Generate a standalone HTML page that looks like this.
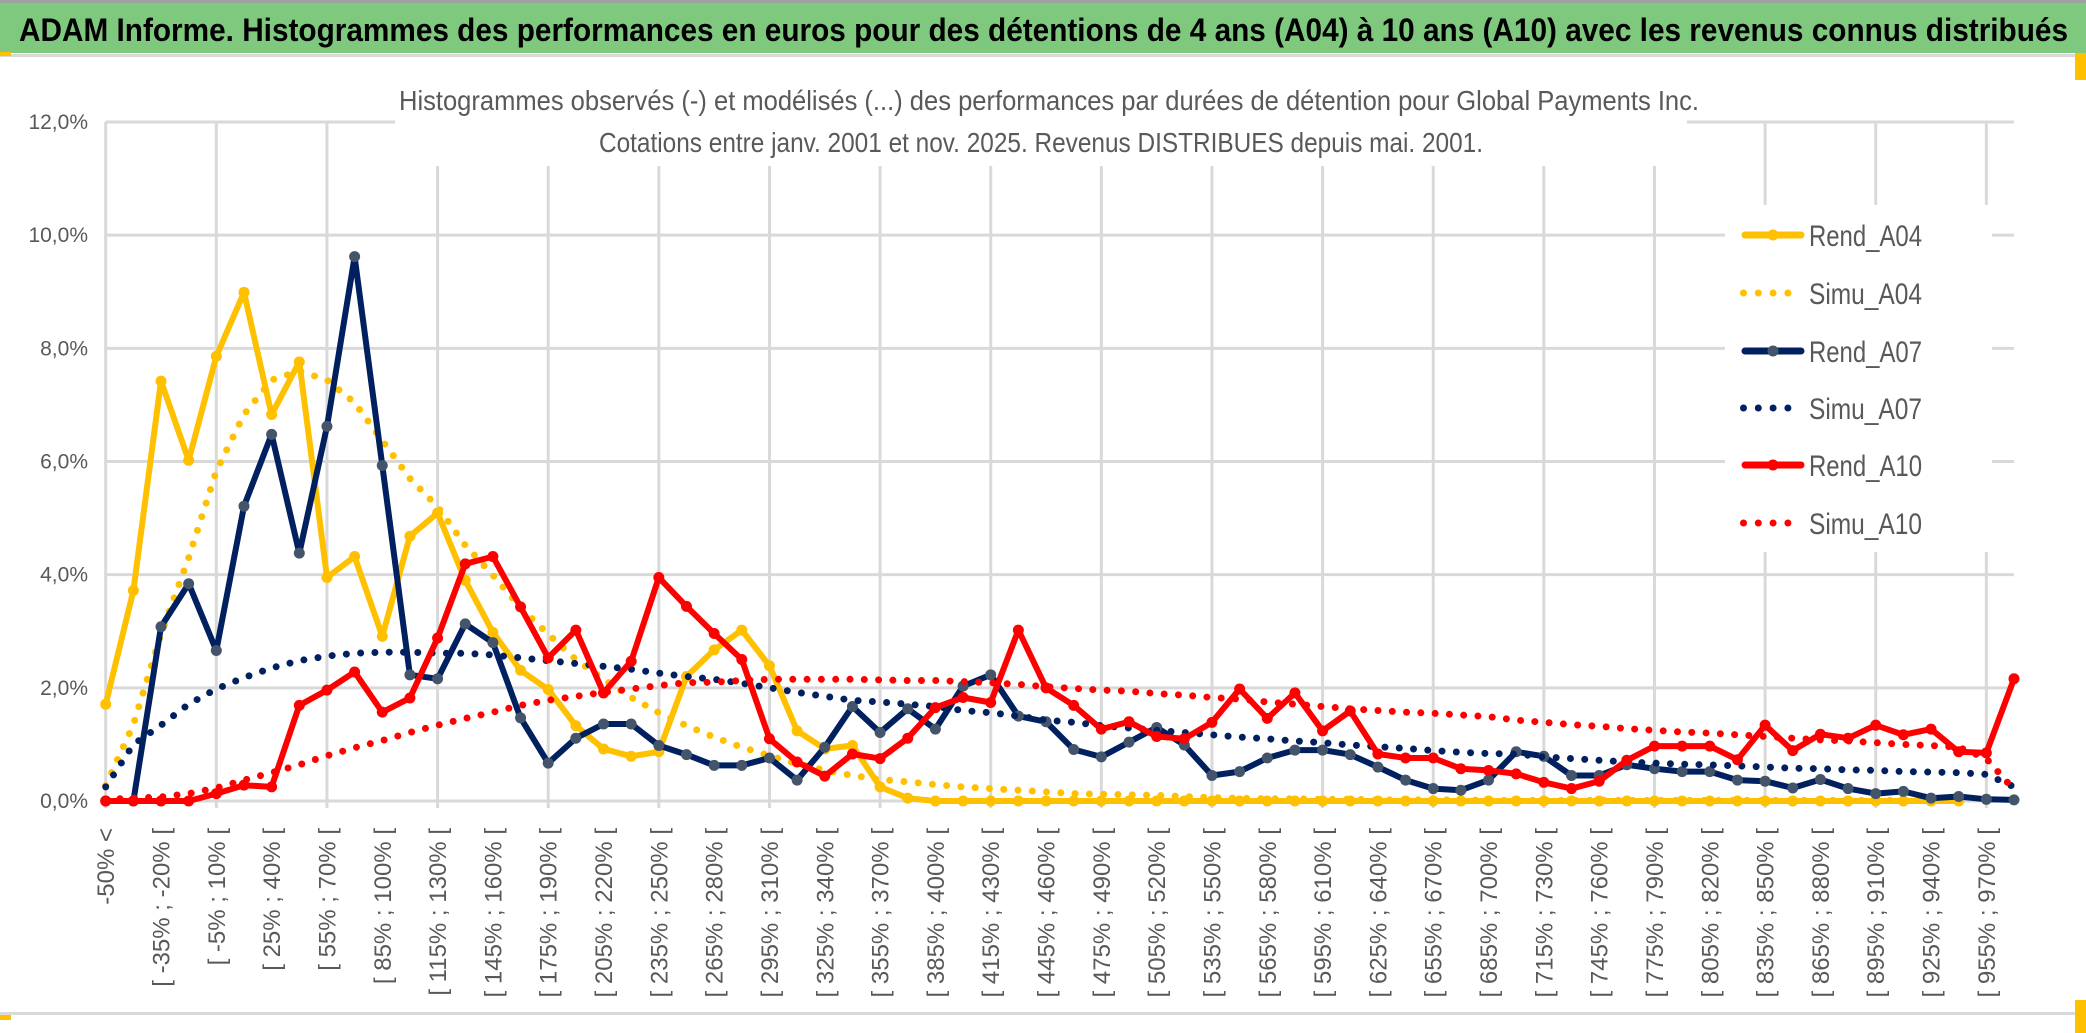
<!DOCTYPE html>
<html><head><meta charset="utf-8">
<style>
html,body{margin:0;padding:0;background:#fff;}
svg{display:block;}
text{font-family:"Liberation Sans Narrow","Liberation Sans",sans-serif;}
.xl{font-family:"Liberation Sans",sans-serif;font-size:24px;fill:#595959;}
</style></head>
<body>
<svg id="chart" width="2086" height="1033" viewBox="0 0 2086 1033" xmlns="http://www.w3.org/2000/svg">
  <rect x="0" y="0" width="2086" height="1033" fill="#fff"/>
  <rect x="0" y="0" width="2086" height="3" fill="#a0a0a0"/>
  <rect x="0" y="3" width="2086" height="50" fill="#7fc97f"/>
  <rect x="0" y="54" width="2086" height="3" fill="#d9d9d9"/>
  <rect x="0" y="52" width="11" height="4" fill="#ffc000"/>
  <rect x="2075" y="53" width="11" height="27" fill="#ffc000"/>
  <rect x="0" y="1012" width="2086" height="3" fill="#d9d9d9"/>
  <rect x="0" y="1015" width="11" height="5" fill="#ffc000"/>
  <rect x="2075" y="1000" width="11" height="33" fill="#ffc000"/>
  <text x="19" y="41" font-size="32" font-weight="bold" fill="#000" textLength="2049" lengthAdjust="spacingAndGlyphs">ADAM Informe. Histogrammes des performances en euros pour des détentions de 4 ans (A04) à 10 ans (A10) avec les revenus connus distribués</text>
  <g id="grid"></g>
  <rect x="395" y="60" width="1292" height="106" fill="#fff"/>
  <rect x="1725" y="205" width="267" height="347" fill="#fff"/>
  <text x="399" y="110" font-size="28" fill="#595959" textLength="1300" lengthAdjust="spacingAndGlyphs">Histogrammes observés (-) et modélisés (...) des performances par durées de détention pour Global Payments Inc.</text>
  <text x="599" y="152" font-size="28" fill="#595959" textLength="884" lengthAdjust="spacingAndGlyphs">Cotations entre janv. 2001 et nov. 2025. Revenus DISTRIBUES depuis mai. 2001.</text>
  <g id="yaxis"></g>
  <g id="xaxis"></g>
  <g id="series"></g>
  <g id="legend"></g>
</svg>
<script>
const nCats = 70;
const yTicks = [0, 2, 4, 6, 8, 10, 12];
const yTickLabels = ["0,0%", "2,0%", "4,0%", "6,0%", "8,0%", "10,0%", "12,0%"];
const xTickLabels = ["-50% <","[ -35% ; -20% [","[ -5% ; 10% [","[ 25% ; 40% [","[ 55% ; 70% [","[ 85% ; 100% [","[ 115% ; 130% [","[ 145% ; 160% [","[ 175% ; 190% [","[ 205% ; 220% [","[ 235% ; 250% [","[ 265% ; 280% [","[ 295% ; 310% [","[ 325% ; 340% [","[ 355% ; 370% [","[ 385% ; 400% [","[ 415% ; 430% [","[ 445% ; 460% [","[ 475% ; 490% [","[ 505% ; 520% [","[ 535% ; 550% [","[ 565% ; 580% [","[ 595% ; 610% [","[ 625% ; 640% [","[ 655% ; 670% [","[ 685% ; 700% [","[ 715% ; 730% [","[ 745% ; 760% [","[ 775% ; 790% [","[ 805% ; 820% [","[ 835% ; 850% [","[ 865% ; 880% [","[ 895% ; 910% [","[ 925% ; 940% [","[ 955% ; 970% ["];

const rendA04 = [1.71,3.72,7.42,6.02,7.86,8.99,6.83,7.76,3.95,4.32,2.91,4.68,5.09,3.9,2.98,2.31,1.97,
 1.33,0.92,0.79,0.87,2.2,2.67,3.02,2.39,1.24,0.92,0.98,0.25,0.05,0,0,0,0,
 0,0,0,0,0,0,0,0,0,0,0,0,0,0,0,0,0,
 0,0,0,0,0,0,0,0,0,0,0,0,0,0,0,0,0,null,null];
const simuA04 = [0.27,1.35,2.95,4.3,5.83,6.83,7.44,7.6,7.44,7.04,6.37,5.7,5.2,4.52,3.99,3.42,2.95,
 2.5,2.15,1.83,1.56,1.33,1.13,0.95,0.8,0.66,0.54,0.45,0.38,0.34,0.29,0.25,0.22,0.19,
 0.16,0.13,0.12,0.11,0.1,0.08,0.06,0.05,0.04,0.04,0.03,0.03,0.02,0.02,0.02,0.02,0.01,
 0.01,0.01,0.01,0.01,0.01,0.01,0.01,0.01,0.01,0.01,0.01,0.01,0.01,0.01,0.01,0.01,null,null,null];
const rendA07 = [0,0,3.08,3.84,2.66,5.21,6.48,4.38,6.62,9.62,5.93,2.23,2.16,3.13,2.8,1.47,0.67,
 1.11,1.36,1.36,0.98,0.82,0.63,0.63,0.76,0.37,0.95,1.67,1.21,1.63,1.27,2.03,2.23,1.5,
 1.4,0.91,0.78,1.04,1.3,0.99,0.45,0.52,0.76,0.9,0.9,0.82,0.6,0.37,0.22,0.19,0.37,
 0.87,0.79,0.45,0.45,0.64,0.57,0.52,0.52,0.37,0.35,0.23,0.38,0.22,0.13,0.17,0.05,0.08,0.03,0.02];
const simuA07 = [0.25,1.0,1.34,1.71,1.98,2.18,2.35,2.48,2.56,2.61,2.63,2.63,2.61,2.61,2.58,2.53,2.48,
 2.43,2.38,2.33,2.26,2.2,2.15,2.08,2.0,1.92,1.85,1.78,1.75,1.71,1.67,1.6,1.56,1.5,
 1.43,1.39,1.33,1.29,1.25,1.21,1.17,1.13,1.1,1.06,1.03,0.99,0.96,0.93,0.89,0.86,0.84,
 0.83,0.78,0.75,0.72,0.69,0.67,0.65,0.64,0.62,0.6,0.58,0.57,0.55,0.54,0.52,0.51,0.5,0.47,0.25];
const rendA10 = [0,0,0,0,0.13,0.28,0.25,1.69,1.96,2.28,1.57,1.82,2.88,4.19,4.32,3.43,2.53,
 3.02,1.91,2.47,3.95,3.44,2.96,2.5,1.1,0.69,0.44,0.83,0.75,1.11,1.65,1.83,1.74,3.02,
 2.0,1.69,1.27,1.4,1.14,1.1,1.39,1.98,1.46,1.91,1.24,1.59,0.83,0.76,0.76,0.57,0.54,
 0.48,0.33,0.22,0.35,0.72,0.97,0.97,0.97,0.73,1.34,0.89,1.18,1.11,1.34,1.17,1.27,0.87,0.85,2.16];
const simuA10 = [0.03,0.05,0.07,0.13,0.23,0.37,0.5,0.64,0.8,0.94,1.07,1.21,1.34,1.46,1.57,1.69,1.78,
 1.85,1.92,1.98,2.04,2.09,2.1,2.13,2.15,2.15,2.15,2.15,2.14,2.13,2.13,2.11,2.09,2.06,
 2.02,1.99,1.96,1.94,1.9,1.87,1.83,1.8,1.75,1.71,1.67,1.63,1.6,1.57,1.55,1.52,1.49,
 1.43,1.39,1.35,1.32,1.28,1.25,1.22,1.2,1.17,1.14,1.11,1.08,1.06,1.03,1.0,0.98,0.95,0.75,0.2];

const NS = "http://www.w3.org/2000/svg";
const X0 = 105.7, X1 = 2014, Y0 = 801, Y12 = 122;
function xPos(k){ return X0 + k * (X1 - X0) / (nCats - 1); }
function yPos(v){ return Y0 - v * (Y0 - Y12) / 12; }
function mk(tag, attrs, parent){
  const e = document.createElementNS(NS, tag);
  for (const a in attrs) e.setAttribute(a, attrs[a]);
  parent.appendChild(e);
  return e;
}

// gridlines
const grid = document.getElementById('grid');
yTicks.forEach(function(t){
  const l = mk('line', {x1:X0, x2:X1, y1:yPos(t), y2:yPos(t), stroke:'#d9d9d9', 'stroke-width':3}, grid);
  
  
});
for (let k = 0; k < nCats; k += 4) {
  const l = mk('line', {x1:xPos(k), x2:xPos(k), y1:yPos(12), y2:Y0 + 7, stroke:'#d9d9d9', 'stroke-width':3}, grid);
  
  
}

// y axis labels
const yaxis = document.getElementById('yaxis');
yTicks.forEach(function(t, i){
  const tx = mk('text', {x:88, y:yPos(t) + 7, 'font-size':21, fill:'#595959', 'text-anchor':'end'}, yaxis);
  tx.textContent = yTickLabels[i];
  
  
});

// x axis labels
const xaxis = document.getElementById('xaxis');
xTickLabels.forEach(function(lab, i){
  const k = i * 2;
  const x = xPos(k) + 8.5, y = 828;
  const tx = mk('text', {x:x, y:y, class:'xl', 'text-anchor':'end', transform:'rotate(-90 ' + x + ' ' + y + ')'}, xaxis);
  tx.textContent = lab;
  
  
});

// series
const sg = document.getElementById('series');
function pathFor(vals){
  let d = '', started = false;
  vals.forEach(function(v, k){
    if (v === null) { started = false; return; }
    d += (started ? 'L' : 'M') + xPos(k).toFixed(1) + ' ' + yPos(v).toFixed(1) + ' ';
    started = true;
  });
  return d;
}
function drawRend(vals, color, markerColor, name){
  const g = mk('g', {}, sg);
  
  
  const p = mk('path', {d:pathFor(vals), fill:'none', stroke:color, 'stroke-width':6, 'stroke-linejoin':'round', 'stroke-linecap':'round'}, g);
  
  
  vals.forEach(function(v, k){
    if (v === null) return;
    const c = mk('circle', {cx:xPos(k), cy:yPos(v), r:5.5, fill:markerColor}, g);
    
    
  });
}
function drawSimu(vals, color, name){
  const p = mk('path', {d:pathFor(vals), fill:'none', stroke:color, 'stroke-width':7, 'stroke-linecap':'round', 'stroke-dasharray':'0 14.3'}, sg);
  
  
}
drawRend(rendA04, '#ffc000', '#ffc000', 'rend-a04');
drawSimu(simuA04, '#ffc000', 'simu-a04');
drawRend(rendA07, '#002060', '#44546a', 'rend-a07');
drawSimu(simuA07, '#002060', 'simu-a07');
drawRend(rendA10, '#ff0000', '#ff0000', 'rend-a10');
drawSimu(simuA10, '#ff0000', 'simu-a10');

// legend
const legendNames = ["Rend_A04","Simu_A04","Rend_A07","Simu_A07","Rend_A10","Simu_A10"];
const legendColors = ["#ffc000","#ffc000","#002060","#002060","#ff0000","#ff0000"];
const legendMarkers = ["#ffc000",null,"#44546a",null,"#ff0000",null];
const legendY = [235, 293, 351, 408, 465, 523];
const lg = document.getElementById('legend');
legendNames.forEach(function(n, i){
  const g = mk('g', {}, lg);
  
  
  const y = legendY[i];
  if (legendMarkers[i]) {
    mk('line', {x1:1745, x2:1801, y1:y, y2:y, stroke:legendColors[i], 'stroke-width':7, 'stroke-linecap':'round'}, g);
    mk('circle', {cx:1773, cy:y, r:5.5, fill:legendMarkers[i]}, g);
  } else {
    mk('line', {x1:1743.5, x2:(i === 5 ? 1802 : 1790), y1:y, y2:y, stroke:legendColors[i], 'stroke-width':7, 'stroke-linecap':'round', 'stroke-dasharray':'0 14.8'}, g);
  }
  const tx = mk('text', {x:1809, y:y + 11, 'font-size':30, fill:'#595959', textLength:113, lengthAdjust:'spacingAndGlyphs'}, g);
  tx.textContent = n;
  
  
});
</script>
</body></html>
